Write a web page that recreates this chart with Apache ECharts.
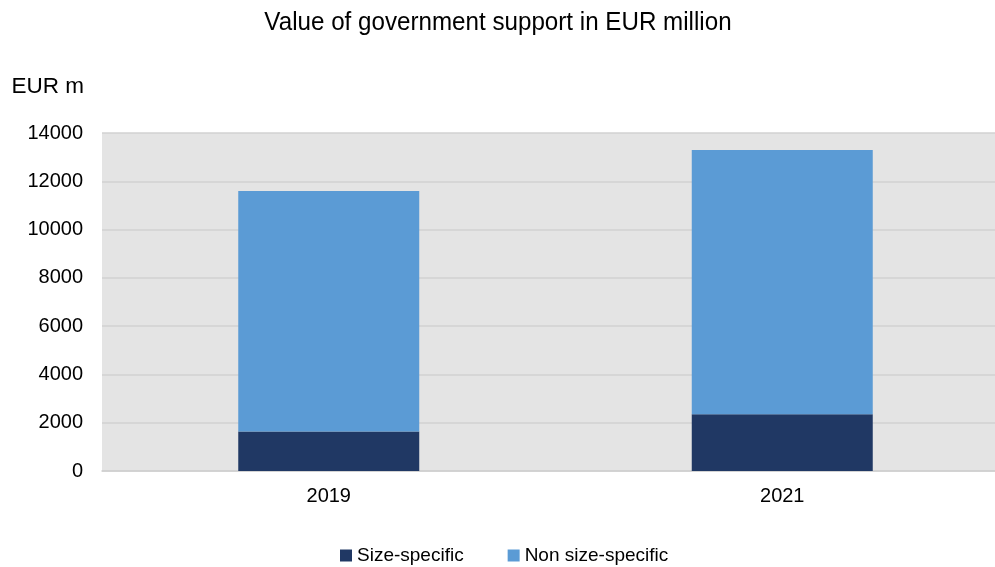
<!DOCTYPE html>
<html>
<head>
<meta charset="utf-8">
<script src="https://cdn.jsdelivr.net/npm/echarts@6/dist/echarts.min.js"></script>
<style>
  html, body { margin: 0; padding: 0; background: #fff; overflow: hidden; }
  /* plot panel runs past the right edge of the view */
  #chart { width: 1009px; height: 567px; }
</style>
</head>
<body>
<div id="chart"></div>
<script>
// Government support by year, stacked by type (EUR million)
const years = ['2019', '2021'];
const sizeSpecific = [1640, 2350];
const nonSizeSpecific = [9960, 10950];
const seriesNames = ['Size-specific', 'Non size-specific'];
const yTicks = { min: 0, max: 14000, interval: 2000 };

const chart = echarts.init(document.getElementById('chart'), null, { renderer: 'canvas' });

const baseFont = '"Liberation Sans", Arial, sans-serif';

chart.setOption({
  animation: false,
  backgroundColor: '#ffffff',
  graphic: [
    {
      // condensed heading
      type: 'text',
      x: 498,
      y: 23,
      scaleX: 0.93,
      style: {
        text: 'Value of government support in EUR million',
        font: 'normal 26px ' + baseFont,
        fill: '#000',
        align: 'center',
        verticalAlign: 'middle'
      }
    },
    {
      type: 'text',
      x: 84,
      y: 87,
      style: {
        text: 'EUR m',
        font: 'normal 22.5px ' + baseFont,
        fill: '#000',
        align: 'right',
        verticalAlign: 'middle'
      }
    }
  ],
  legend: {
    data: seriesNames,
    top: 541,
    left: 335,
    icon: 'rect',
    itemWidth: 12,
    itemHeight: 12,
    itemGap: 44,
    padding: 5,
    textStyle: {
      fontFamily: baseFont,
      fontSize: 19,
      color: '#000'
    }
  },
  grid: {
    left: 102,
    right: 0,
    top: 133,
    bottom: 96,
    show: true,
    backgroundColor: '#e4e4e4',
    borderWidth: 0
  },
  xAxis: {
    type: 'category',
    data: years,
    axisTick: { show: false },
    axisLine: { show: true, lineStyle: { color: '#cfcfcf', width: 1.5 } },
    axisLabel: {
      margin: 15,
      fontFamily: baseFont,
      fontSize: 20,
      color: '#000'
    }
  },
  yAxis: {
    type: 'value',
    min: yTicks.min,
    max: yTicks.max,
    interval: yTicks.interval,
    axisLine: { show: false },
    axisTick: { show: false },
    splitLine: { show: true, lineStyle: { color: '#d2d2d2', width: 1.5 } },
    axisLabel: {
      margin: 19,
      fontFamily: baseFont,
      fontSize: 20,
      color: '#000',
      formatter: (v) => String(v)
    }
  },
  series: [
    {
      name: seriesNames[0],
      type: 'bar',
      stack: 'total',
      barWidth: 181,
      data: sizeSpecific,
      itemStyle: { color: '#203864' }
    },
    {
      name: seriesNames[1],
      type: 'bar',
      stack: 'total',
      barWidth: 181,
      data: nonSizeSpecific,
      itemStyle: { color: '#5b9bd5' }
    }
  ]
});
</script>
</body>
</html>
